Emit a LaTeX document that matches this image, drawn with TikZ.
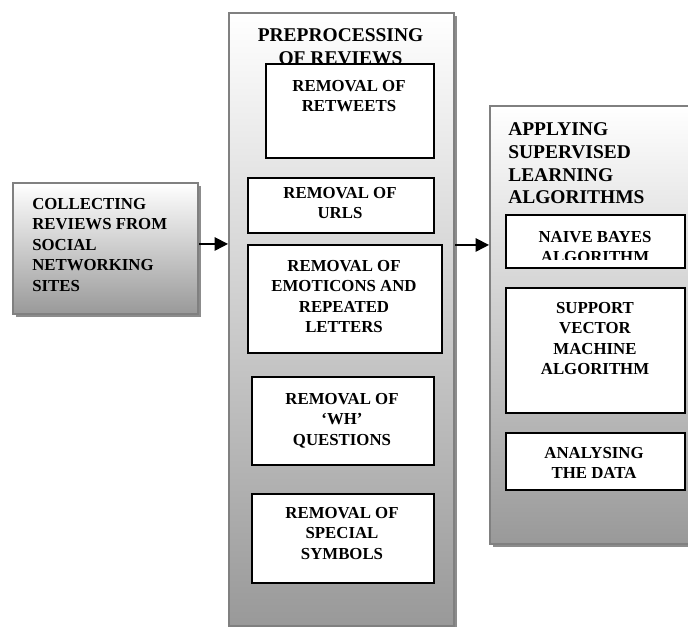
\documentclass[tikz,border=0pt]{standalone}
\usepackage{fontspec}
\setmainfont{Liberation Serif}
\usetikzlibrary{arrows.meta,positioning,shadows}
\tikzset{
  stagebox/.style={
    draw=black!50, line width=1.5pt,
    top color=white, bottom color=black!40,
    drop shadow={shadow xshift=2.5pt, shadow yshift=-2.5pt,
                 fill=black!45, opacity=1},
    anchor=north west, inner sep=0pt
  },
  stepbox/.style={
    draw=black, fill=white, line width=1.3pt,
    anchor=north west, inner sep=0pt
  },
  titletext/.style={
    font=\fontsize{14.6}{17.2}\selectfont\bfseries,
    inner sep=0pt, anchor=north
  },
  steptext/.style={
    font=\fontsize{12.6}{15.3}\selectfont\bfseries,
    align=center, inner sep=0pt, anchor=north
  },
  flowarr/.style={-{Triangle[length=10pt,width=10pt]}, draw=black, line width=1.3pt}
}

\begin{document}
\begin{tikzpicture}[x=0.75pt, y=-0.75pt]
  \useasboundingbox (0,0) rectangle (688,626);
  \clip (0,0) rectangle (688,626);

  % stages
  \node[stagebox, minimum width=138.75pt, minimum height=98.25pt] (col)   at (12,182) {};
  \node[stagebox, minimum width=168.75pt, minimum height=459.75pt] (pre)  at (228,12) {};
  \node[stagebox, minimum width=158.25pt, minimum height=328.5pt] (apply) at (489,105) {};

  \node[steptext, align=left, anchor=north west] (col-t) at (32,198)
    {COLLECTING\\REVIEWS FROM\\SOCIAL\\NETWORKING\\SITES};
  \node[titletext, align=center] (pre-t) at (340.5,28)
    {PREPROCESSING\\OF REVIEWS};
  \node[titletext, align=left, anchor=north west] (apply-t) at (508,122)
    {APPLYING\\SUPERVISED\\LEARNING\\ALGORITHMS};

  % preprocessing steps
  \node[stepbox, minimum width=126pt,   minimum height=70.5pt]  (rt)  at (265,63)  {};
  \node[stepbox, minimum width=139.5pt, minimum height=41.25pt] (url) at (247,177) {};
  \node[stepbox, minimum width=145.5pt, minimum height=81pt]    (emo) at (247,244) {};
  \node[stepbox, minimum width=136.5pt, minimum height=66pt]    (wh)  at (251,376) {};
  \node[stepbox, minimum width=136.5pt, minimum height=66.75pt] (sym) at (251,493) {};

  \node[steptext] (rt-t)  at (349,80)  {REMOVAL OF\\RETWEETS};
  \node[steptext] (url-t) at (340,187) {REMOVAL OF\\URLS};
  \node[steptext] (emo-t) at (344,260) {REMOVAL OF\\EMOTICONS AND\\REPEATED\\LETTERS};
  \node[steptext] (wh-t)  at (342,393) {REMOVAL OF\\‘WH’\\QUESTIONS};
  \node[steptext] (sym-t) at (342,507) {REMOVAL OF\\SPECIAL\\SYMBOLS};

  % learning steps
  \node[stepbox, minimum width=134.25pt, minimum height=39.75pt] (nb)  at (505,214) {};
  \node[stepbox, minimum width=134.25pt, minimum height=93.75pt] (svm) at (505,287) {};
  \node[stepbox, minimum width=134.25pt, minimum height=42.75pt] (ana) at (505,432) {};

  \begin{scope}
    \clip ([shift={(0.65pt,-0.65pt)}]nb.north west)
      rectangle ([yshift=6.75pt]nb.south east);
    \node[steptext] (nb-t) at (595,231) {NAIVE BAYES\\ALGORITHM};
  \end{scope}
  \node[steptext] (svm-t) at (595,302) {SUPPORT\\VECTOR\\MACHINE\\ALGORITHM};
  \node[steptext] (ana-t) at (594,447) {ANALYSING\\THE DATA};

  % flow
  \draw[flowarr] ([yshift=3.4pt]col.east) -- ([yshift=3.4pt]col.east -| pre.west);
  \draw[flowarr] ([yshift=55.9pt]pre.east) -- ([yshift=55.9pt]pre.east -| apply.west);
\end{tikzpicture}
\end{document}
